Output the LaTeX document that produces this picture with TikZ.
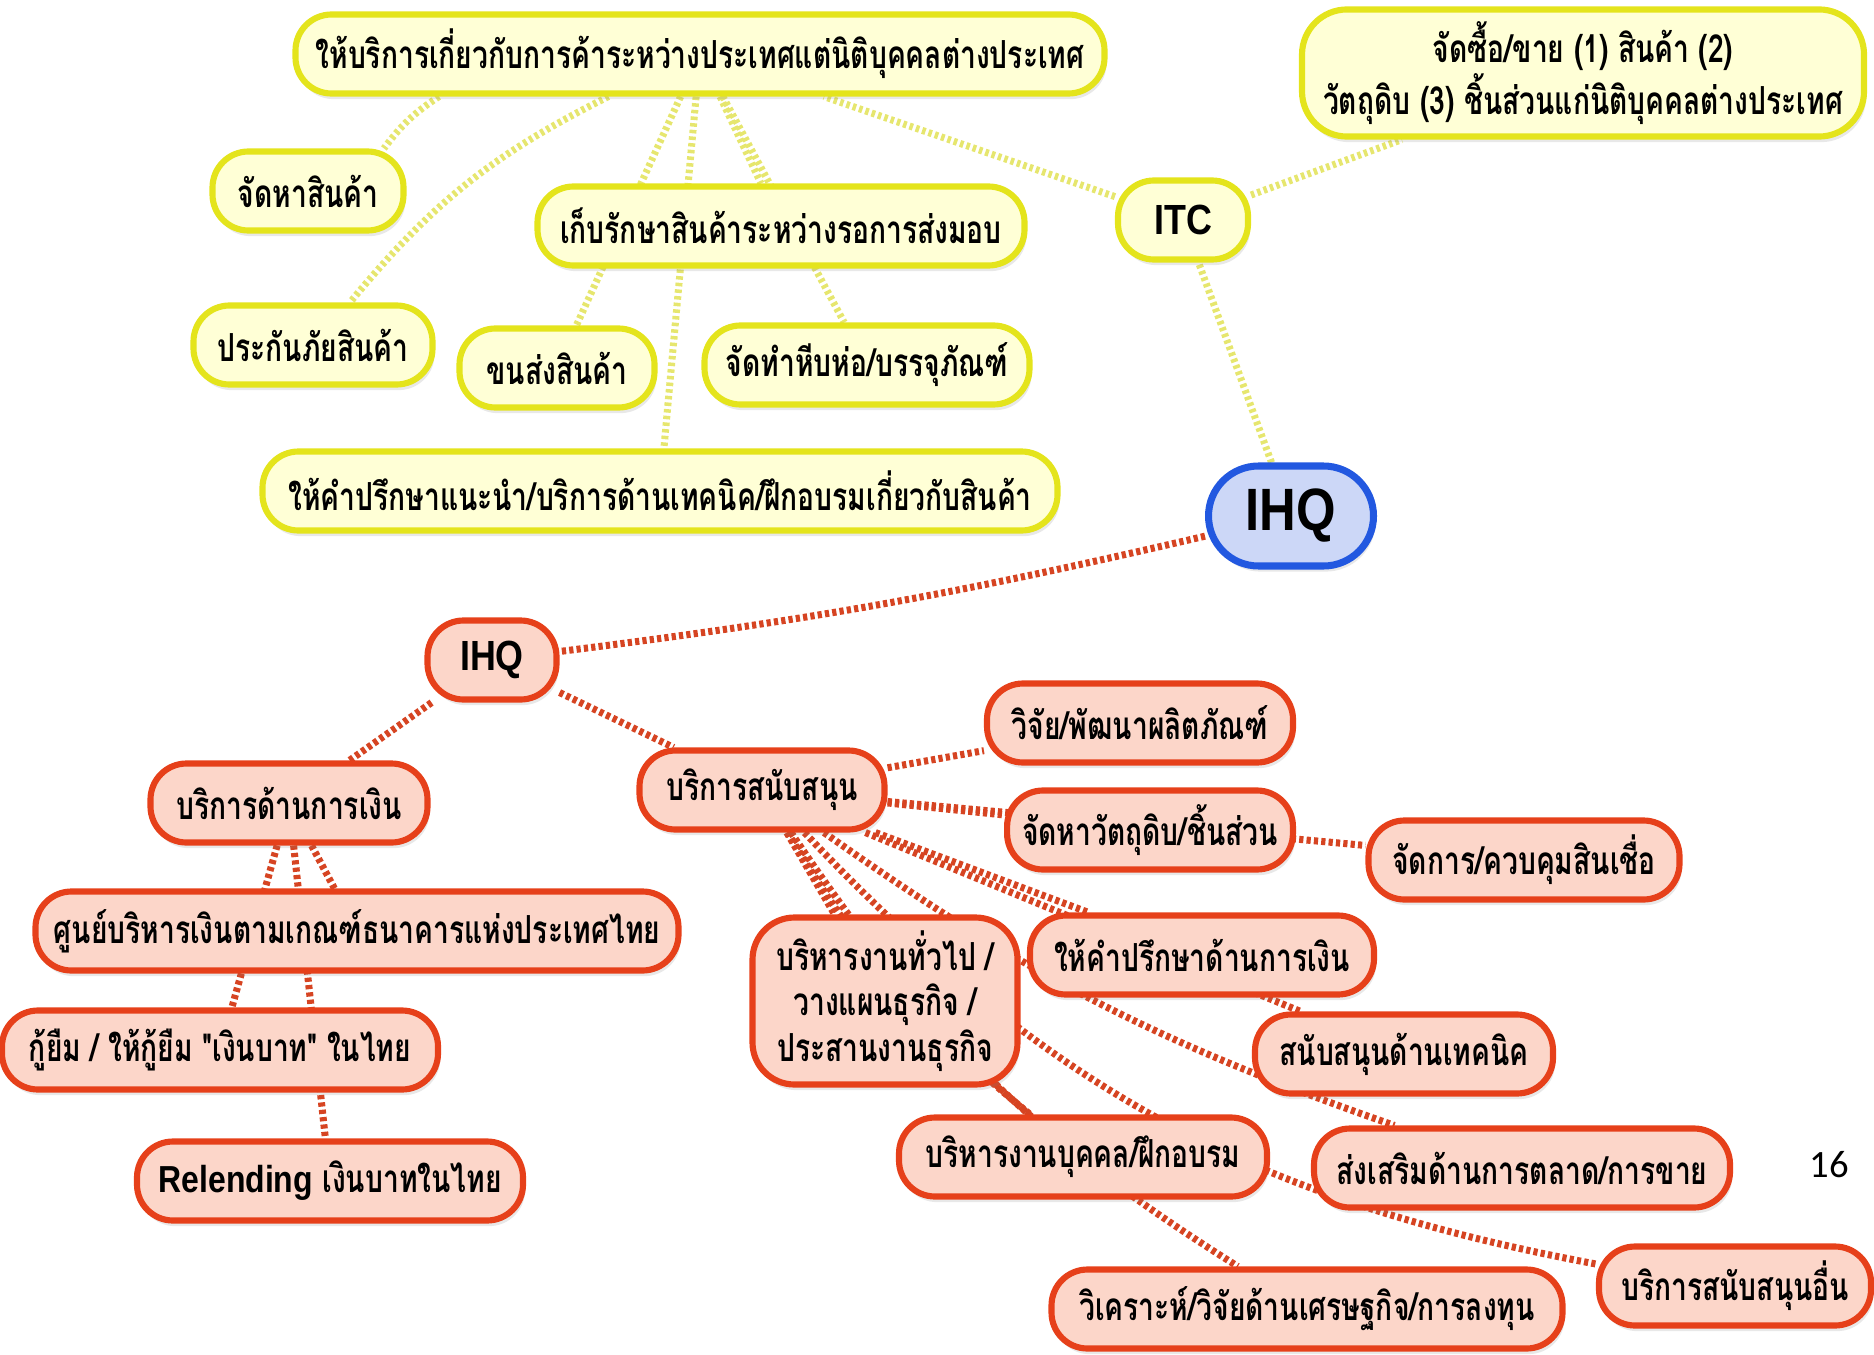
\documentclass[tikz,border=0pt]{standalone}
\usepackage{fontspec}
\setmainfont{Liberation Sans}
\newfontfamily\thai[Script=Thai, FakeStretch=0.73]{Loma}
\newfontfamily\latinc[FakeStretch=0.85]{Liberation Sans}
\newfontfamily\pagefont{Carlito}
\usetikzlibrary{shadows}
\pgfdeclarelayer{bg}
\pgfsetlayers{bg,main}

\definecolor{ylwline}{HTML}{E4E41C}
\definecolor{ylwfill}{HTML}{FFFFD6}
\definecolor{ylwlink}{HTML}{E6E66E}
\definecolor{redline}{HTML}{E6401A}
\definecolor{redfill}{HTML}{FCD6C9}
\definecolor{redlink}{HTML}{D64422}
\definecolor{bluline}{HTML}{2258E0}
\definecolor{blufill}{HTML}{CCD7F7}

\tikzset{
  box/.style={rounded corners=0.36cm, line width=1.75pt, align=center,
    font=\thai\bfseries\fontsize{11}{13}\selectfont, inner xsep=0.15cm,
    minimum height=0.79cm,
    drop shadow={opacity=0.18, shadow xshift=0.6pt, shadow yshift=-1.6pt}},
  ybox/.style={box, draw=ylwline, fill=ylwfill},
  rbox/.style={box, draw=redline, fill=redfill},
  latin/.style={font=\latinc\bfseries\fontsize{12}{14}\selectfont},
  wd/.style={minimum width=#1cm},
  ylink/.style={ylwlink, line width=2pt, dash pattern=on 1pt off 0.9pt},
  rlink/.style={redlink, line width=2pt, dash pattern=on 1.2pt off 0.9pt}
}

\begin{document}
\begin{tikzpicture}
\useasboundingbox (0,0) rectangle (18.74,-13.54);

% Define the yellow (ITC) side
\node[ybox, wd=8.09] (Y0) at (7.00,-0.54) {ให้บริการเกี่ยวกับการค้าระหว่างประเทศแต่นิติบุคคลต่างประเทศ};
\node[ybox, wd=5.62, minimum height=1.22cm, rounded corners=0.45cm] (Y1) at (15.83,-0.73) {จัดซื้อ/ขาย (1) สินค้า (2)\\วัตถุดิบ (3) ชิ้นส่วนแก่นิติบุคคลต่างประเทศ};
\node[ybox, wd=1.91] (Y2) at (3.08,-1.91) {จัดหาสินค้า};
\node[ybox, wd=4.87] (Y3) at (7.81,-2.26) {เก็บรักษาสินค้าระหว่างรอการส่งมอบ};
\node[ybox, latin, wd=1.30] (ITC) at (11.83,-2.20) {ITC};
\node[ybox, wd=2.39] (Y4) at (3.13,-3.45) {ประกันภัยสินค้า};
\node[ybox, wd=1.95] (Y5) at (5.57,-3.68) {ขนส่งสินค้า};
\node[ybox, wd=3.25] (Y6) at (8.67,-3.65) {จัดทำหีบห่อ/บรรจุภัณฑ์};
\node[ybox, wd=7.95] (Y7) at (6.60,-4.91) {ให้คำปรึกษาแนะนำ/บริการด้านเทคนิค/ฝึกอบรมเกี่ยวกับสินค้า};

% Centre node
\node[box, draw=bluline, fill=blufill, line width=2pt, rounded corners=0.5cm, wd=1.65, minimum height=1.0cm, font=\latinc\bfseries\fontsize{17}{19}\selectfont] (B0) at (12.91,-5.16) {IHQ};

% Define the red (IHQ) side
\node[rbox, latin, wd=1.29] (R0) at (4.92,-6.60) {IHQ};
\node[rbox, wd=2.77] (R1) at (2.89,-8.03) {บริการด้านการเงิน};
\node[rbox, wd=2.45] (R2) at (7.62,-7.90) {บริการสนับสนุน};
\node[rbox, wd=3.06] (R3) at (11.40,-7.23) {วิจัย/พัฒนาผลิตภัณฑ์};
\node[rbox, wd=2.81] (R4) at (11.50,-8.30) {จัดหาวัตถุดิบ/ชิ้นส่วน};
\node[rbox, wd=3.11] (R5) at (15.24,-8.60) {จัดการ/ควบคุมสินเชื่อ};
\node[rbox, wd=6.43] (R6) at (3.57,-9.31) {ศูนย์บริหารเงินตามเกณฑ์ธนาคารแห่งประเทศไทย};
\node[rbox, wd=2.65, minimum height=1.67cm, rounded corners=0.42cm] (R7) at (8.85,-10.01) {บริหารงานทั่วไป /\\วางแผนธุรกิจ /\\ประสานงานธุรกิจ};
\node[rbox, wd=3.44] (R8) at (12.02,-9.55) {ให้คำปรึกษาด้านการเงิน};
\node[rbox, wd=2.98] (R9) at (14.04,-10.54) {สนับสนุนด้านเทคนิค};
\node[rbox, wd=4.36] (R10) at (2.20,-10.50) {กู้ยืม / ให้กู้ยืม "เงินบาท" ในไทย};
\node[rbox, wd=3.86] (R11) at (3.30,-11.81) {{\latinc\fontsize{10.7}{13}\selectfont Relending} เงินบาทในไทย};
\node[rbox, wd=3.68] (R12) at (10.83,-11.57) {บริหารงานบุคคล/ฝึกอบรม};
\node[rbox, wd=4.16] (R13) at (15.22,-11.68) {ส่งเสริมด้านการตลาด/การขาย};
\node[rbox, wd=2.72] (R14) at (17.35,-12.86) {บริการสนับสนุนอื่น};
\node[rbox, wd=5.11] (R15) at (13.07,-13.09) {วิเคราะห์/วิจัยด้านเศรษฐกิจ/การลงทุน};

\node[font=\pagefont\fontsize{11}{13}\selectfont] (pg) at (18.29,-11.65) {16};

% Draw edges behind the nodes
\begin{pgfonlayer}{bg}
\draw[ylink] (B0) -- (ITC);
\draw[ylink] (ITC) -- (Y1);
\draw[ylink] (ITC) -- (Y0);
\draw[ylink] (Y0) to[bend right=10] (Y2);
\draw[ylink] (Y0) to[bend right=12] (Y4);
\draw[ylink] (Y0) -- (Y3);
\draw[ylink] (Y0) -- (Y5);
\draw[ylink] (Y0) -- (Y6);
\draw[ylink] (Y0) -- (Y7);

\draw[rlink] (B0) to[bend left=3] (R0);
\draw[rlink] (R0) -- (R1);
\draw[rlink] (R0) -- (R2);
\draw[rlink] (R1) -- (R6);
\draw[rlink] (R1) -- (R10);
\draw[rlink] (R1) -- (R11);
\draw[rlink] (R2) -- (R3);
\draw[rlink] (R2) -- (R4);
\draw[rlink] (R2) -- (R5);
\draw[rlink] (R2) -- (R7);
\draw[rlink] (R2) -- (R8);
\draw[rlink] (R2) -- (R9);
\draw[rlink] (R2) to[bend right=10] (R12);
\draw[rlink] (R2) to[bend right=8] (R13);
\draw[rlink] (R2) to[bend right=18] (R14);
\draw[rlink] (R2) to[bend right=12] (R15);
\end{pgfonlayer}
\end{tikzpicture}
\end{document}
